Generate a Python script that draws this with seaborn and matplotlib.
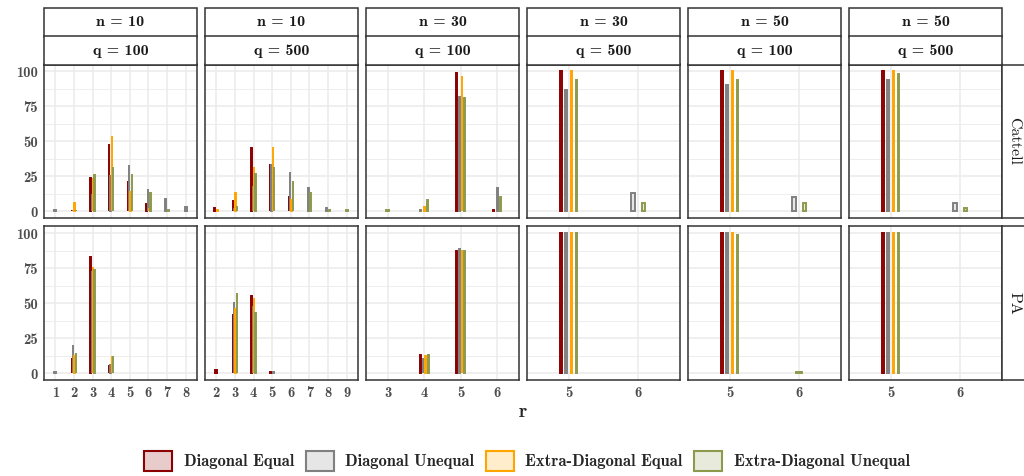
import numpy as np
import pandas as pd
import matplotlib
matplotlib.use("Agg")
import matplotlib.pyplot as plt
import seaborn as sns
from matplotlib.patches import Rectangle, Patch

# ---------------- data ----------------
methods = ["Diagonal Equal", "Diagonal Unequal", "Extra-Diagonal Equal", "Extra-Diagonal Unequal"]
edge_colors = ["#8B0000", "#808080", "#FFA500", "#8C9A4E"]
criteria = ["Cattell", "PA"]
n_values = [10, 10, 30, 30, 50, 50]
q_values = [100, 500, 100, 500, 100, 500]

# r levels per column panel
r_n10_q100 = [1, 2, 3, 4, 5, 6, 7, 8]
r_n10_q500 = [2, 3, 4, 5, 6, 7, 8, 9]
r_n30_q100 = [3, 4, 5, 6]
r_n30_q500 = [5, 6]
r_n50_q100 = [5, 6]
r_n50_q500 = [5, 6]

# percentages: one row per r level, columns follow `methods`
cattell_n10_q100 = [[0, 1, 0, 0], [1, 1, 6, 1], [24, 12, 24, 26], [48, 25, 54, 32],
                    [22, 33, 14, 27], [5, 16, 2, 13], [0, 9, 0, 1], [0, 3, 0, 0]]
cattell_n10_q500 = [[2, 0, 1, 0], [8, 2, 13, 4], [45, 18, 32, 27], [34, 33, 46, 32],
                    [11, 28, 8, 22], [0, 17, 0, 13], [0, 2, 0, 1], [0, 0, 0, 1]]
cattell_n30_q100 = [[0, 0, 0, 1], [0, 1, 3, 8], [99, 82, 97, 81], [1, 17, 0, 10]]
cattell_n30_q500 = [[100, 87, 100, 94], [0, 13, 0, 6]]
cattell_n50_q100 = [[100, 90, 100, 94], [0, 10, 0, 6]]
cattell_n50_q500 = [[100, 94, 100, 98], [0, 6, 0, 2]]

pa_n10_q100 = [[0, 1, 0, 0], [11, 20, 12, 14], [83, 73, 76, 74], [6, 6, 12, 12],
               [0, 0, 0, 0], [0, 0, 0, 0], [0, 0, 0, 0], [0, 0, 0, 0]]
pa_n10_q500 = [[2, 0, 0, 0], [42, 51, 46, 57], [55, 48, 54, 43], [1, 1, 0, 0],
               [0, 0, 0, 0], [0, 0, 0, 0], [0, 0, 0, 0], [0, 0, 0, 0]]
pa_n30_q100 = [[0, 0, 0, 0], [13, 11, 12, 13], [87, 89, 88, 87], [0, 0, 0, 0]]
pa_n30_q500 = [[100, 100, 100, 100], [0, 0, 0, 0]]
pa_n50_q100 = [[100, 100, 100, 99], [0, 0, 0, 1]]
pa_n50_q500 = [[100, 100, 100, 100], [0, 0, 0, 0]]

r_levels = [r_n10_q100, r_n10_q500, r_n30_q100, r_n30_q500, r_n50_q100, r_n50_q500]
cattell_vals = [cattell_n10_q100, cattell_n10_q500, cattell_n30_q100,
                cattell_n30_q500, cattell_n50_q100, cattell_n50_q500]
pa_vals = [pa_n10_q100, pa_n10_q500, pa_n30_q100, pa_n30_q500, pa_n50_q100, pa_n50_q500]

rows = []
for crit, table in zip(criteria, [cattell_vals, pa_vals]):
    for p, (levels, vals) in enumerate(zip(r_levels, table)):
        for r, v in zip(levels, vals):
            for mi, m in enumerate(methods):
                rows.append(dict(criterion=crit, panel=p, r=r, method=m, mi=mi, pct=v[mi]))
df = pd.DataFrame(rows)

# ---------------- style ----------------
sns.set_theme(style="white")
plt.rcParams["font.family"] = ["cmb10", "DejaVu Serif"]
plt.rcParams["axes.unicode_minus"] = False
plt.rcParams["axes.formatter.use_mathtext"] = True

fills = []
for c in edge_colors:
    rgb = np.array(matplotlib.colors.to_rgb(c))
    fills.append(tuple(0.2 * rgb + 0.8))

W_DODGE = 0.30
W_BAR = 0.09
GRID = "#EBEBEB"
DARK = "#333333"


def draw(data, **kws):
    ax = plt.gca()
    levels = sorted(data["r"].unique())
    for idx, r in enumerate(levels):
        sub = data[(data["r"] == r) & (data["pct"] > 0)].sort_values("mi")
        n = len(sub)
        for i, (_, row) in enumerate(sub.iterrows()):
            if n > 1:
                x = idx + W_DODGE * ((i + 0.5) / n - 0.5)
                w = W_BAR / n
            else:
                x = idx
                w = W_BAR
            ax.bar(x, row["pct"], width=w, color=fills[row["mi"]],
                   edgecolor=edge_colors[row["mi"]], linewidth=1.4, zorder=3)
    ax.set_xlim(-0.6, len(levels) - 0.4)
    ax.set_xticks(range(len(levels)))
    ax.set_xticklabels([str(r) for r in levels])


g = sns.FacetGrid(df, row="criterion", col="panel", row_order=criteria,
                  col_order=list(range(6)), sharex="col", sharey=True,
                  despine=False, height=2, aspect=1)
g.map_dataframe(draw)
g.set_titles(template="")
g.set_axis_labels("", "")

fig = g.figure
fig.set_size_inches(10.24, 4.76)
FW, FH = 1024, 476
fig.subplots_adjust(left=44 / FW, right=1002 / FW, top=1 - 64.5 / FH,
                    bottom=1 - 380 / FH, wspace=8 / 153, hspace=8 / 154)

for ri in range(2):
    for ci in range(6):
        ax = g.axes[ri, ci]
        ax.set_ylim(-5, 105)
        ax.set_yticks([0, 25, 50, 75, 100])
        ax.set_yticks([12.5, 37.5, 62.5, 87.5], minor=True)
        ax.set_yticklabels(["0", "25", "50", "75", "100"])
        ax.grid(which="major", color=GRID, linewidth=1.1, zorder=0)
        ax.grid(which="minor", axis="y", color=GRID, linewidth=0.6, zorder=0)
        ax.set_axisbelow(True)
        for s in ax.spines.values():
            s.set_color(DARK)
            s.set_linewidth(1.1)
            s.set_zorder(5)
        ax.tick_params(which="minor", length=0)
        ax.tick_params(axis="both", which="major", length=3, width=0.9, color=DARK,
                       labelcolor="#4D4D4D", labelsize=10.5, pad=1.5)
        if ci > 0:
            ax.tick_params(axis="y", length=0, labelleft=False)
        if ri == 0:
            ax.tick_params(axis="x", length=0, labelbottom=False)

# strips on top
sh = 28 / FH
for ci in range(6):
    pos = g.axes[0, ci].get_position()
    labels = [f"n = {n_values[ci]}", f"q = {q_values[ci]}"]
    for k, txt in enumerate(labels):
        y0 = pos.y1 + (1 - k) * sh
        fig.add_artist(Rectangle((pos.x0, y0), pos.width, sh, transform=fig.transFigure,
                                 facecolor="white", edgecolor=DARK, linewidth=1.1))
        fig.text(pos.x0 + pos.width / 2, y0 + sh / 2, txt, ha="center", va="center",
                 fontsize=11.5, color="#1A1A1A")

# strips on the right
for ri in range(2):
    pos = g.axes[ri, 5].get_position()
    fig.add_artist(Rectangle((pos.x1, pos.y0), 40 / FW, pos.height, transform=fig.transFigure,
                             facecolor="white", edgecolor=DARK, linewidth=1.1))
    fig.text(pos.x1 + 12 / FW, pos.y0 + pos.height / 2, criteria[ri], rotation=-90,
             ha="center", va="center", fontsize=11.5, color="#1A1A1A",
             family=["cmr10", "DejaVu Serif"])

# axis title
fig.text(523 / FW, 1 - 412 / FH, "r", ha="center", va="center", fontsize=14)

# legend
handles = [Patch(facecolor=fills[i], edgecolor=edge_colors[i], linewidth=1.5, label=m)
           for i, m in enumerate(methods)]
fig.legend(handles=handles, loc="center", bbox_to_anchor=(527 / FW, 1 - 461 / FH),
           ncol=4, frameon=False, fontsize=11.9, handlelength=1.7, handleheight=1.4,
           handletextpad=0.7, columnspacing=0.7)

fig.savefig("out.png", dpi=100)
